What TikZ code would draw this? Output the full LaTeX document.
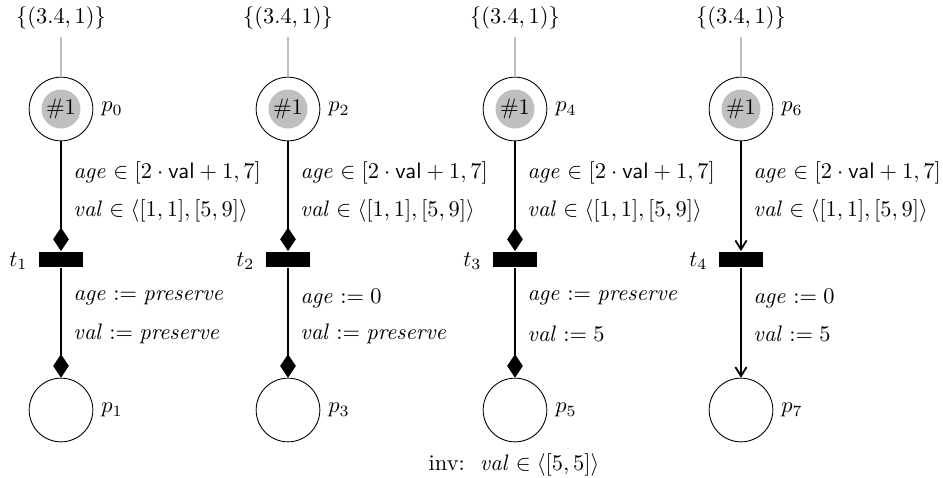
\documentclass[tikz,border=0pt]{standalone}
\usetikzlibrary{arrows.meta}
\begin{document}
\begin{tikzpicture}[x=0.446pt,y=-0.446pt,
  place/.style={circle,draw,minimum size=28.4pt,inner sep=0pt},
  token/.style={circle,fill=gray!50,minimum size=17.4pt,inner sep=0pt},
  trans/.style={rectangle,fill=black,minimum width=19.2pt,minimum height=7.1pt,inner sep=0pt},
  tag/.style={inner sep=0pt},
  guard/.style={anchor=west,inner sep=0pt},
  tokenline/.style={draw=gray!50,line width=0.5pt},
  arc/.style={draw,thick},
  diam/.style={arc,-{Diamond[length=10.5pt,width=7pt]}},
  plain/.style={arc,-{Straight Barb[length=4pt,width=5pt]}}]
\useasboundingbox (0,0) rectangle (943,477);

% four columns: input place, transition, output place
\foreach \x/\pin/\tr/\pout in {61/0/1/1, 288/2/2/3, 515/4/3/5, 741/6/4/7} {
  \node (tok\pin) at (\x,18) {$\{(3.4,1)\}$};
  \node[place] (p\pin) at (\x,109) {};
  \node[token] at (p\pin) {$\#1$};
  \node[tag,anchor=west] at (\x+40,109) {$p_{\pin}$};
  \draw[tokenline] (tok\pin.south) -- (p\pin.north);
  \node[trans] (t\tr) at (\x,259.5) {};
  \node[tag,anchor=east] at (\x-33,261) {$t_{\tr}$};
  \node[place] (p\pout) at (\x,410) {};
  \node[tag,anchor=west] at (\x+40,410) {$p_{\pout}$};
  \node[guard] at (\x+12,173) {$\mathit{age} \in [2\cdot\mathsf{val}+1,7]$};
  \node[guard] at (\x+12,211) {$\mathit{val} \in \langle[1,1],[5,9]\rangle$};
}

% arcs
\draw[diam] (p0) -- (t1);
\draw[diam] (t1) -- (p1);
\draw[diam] (p2) -- (t2);
\draw[diam] (t2) -- (p3);
\draw[diam] (p4) -- (t3);
\draw[diam] (t3) -- (p5);
\draw[plain] (p6) -- (t4);
\draw[plain] (t4) -- (p7);

% updates on the output arcs
\node[guard] at (73,298) {$\mathit{age} := \mathit{preserve}$};
\node[guard] at (73,334) {$\mathit{val} := \mathit{preserve}$};
\node[guard] at (300,298) {$\mathit{age} := 0$};
\node[guard] at (300,334) {$\mathit{val} := \mathit{preserve}$};
\node[guard] at (527,298) {$\mathit{age} := \mathit{preserve}$};
\node[guard] at (527,334) {$\mathit{val} := 5$};
\node[guard] at (753,298) {$\mathit{age} := 0$};
\node[guard] at (753,334) {$\mathit{val} := 5$};

% invariant of p5
\node (inv5) at (514,465) {inv:\ \ $\mathit{val} \in \langle[5,5]\rangle$};
\end{tikzpicture}
\end{document}
